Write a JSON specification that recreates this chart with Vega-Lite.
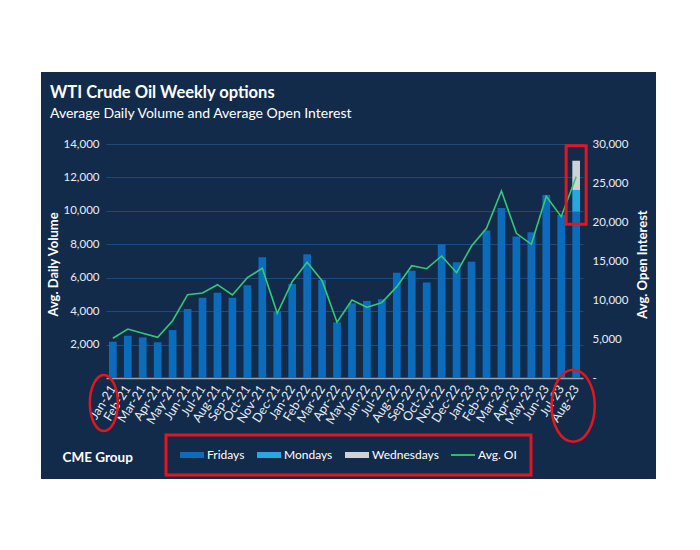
{
  "$schema": "https://vega.github.io/schema/vega-lite/v6.json",
  "width": 615,
  "height": 407,
  "autosize": {"type": "none"},
  "padding": {"left": 41, "top": 72, "right": 44, "bottom": 71},
  "background": "#ffffff",
  "view": {"fill": "#132b4b", "stroke": null},
  "config": {
    "font": "Lato",
    "view": {"fill": "#132b4b", "stroke": null},
    "style": {"cell": {"fill": "#132b4b", "stroke": null}},
    "legend": {"strokeWidth": 3}
  },
  "title": {
    "text": "WTI Crude Oil Weekly options",
    "subtitle": "Average Daily Volume and Average Open Interest",
    "anchor": "start",
    "frame": "group",
    "orient": "top",
    "offset": -49,
    "dx": 9,
    "color": "#ffffff",
    "fontSize": 16.5,
    "fontWeight": "bold",
    "subtitleColor": "#ffffff",
    "subtitleFontSize": 14,
    "subtitleFontWeight": "normal",
    "subtitlePadding": 6
  },
  "datasets": {
    "bars": [
      {"month": "Jan-21", "series": "Fridays", "value": 2170},
      {"month": "Feb-21", "series": "Fridays", "value": 2530},
      {"month": "Mar-21", "series": "Fridays", "value": 2430},
      {"month": "Apr-21", "series": "Fridays", "value": 2140},
      {"month": "May-21", "series": "Fridays", "value": 2870},
      {"month": "Jun-21", "series": "Fridays", "value": 4130},
      {"month": "Jul-21", "series": "Fridays", "value": 4800},
      {"month": "Aug-21", "series": "Fridays", "value": 5100},
      {"month": "Sep-21", "series": "Fridays", "value": 4800},
      {"month": "Oct-21", "series": "Fridays", "value": 5550},
      {"month": "Nov-21", "series": "Fridays", "value": 7220},
      {"month": "Dec-21", "series": "Fridays", "value": 3970},
      {"month": "Jan-22", "series": "Fridays", "value": 5620},
      {"month": "Feb-22", "series": "Fridays", "value": 7400},
      {"month": "Mar-22", "series": "Fridays", "value": 5860},
      {"month": "Apr-22", "series": "Fridays", "value": 3330},
      {"month": "May-22", "series": "Fridays", "value": 4470},
      {"month": "Jun-22", "series": "Fridays", "value": 4610},
      {"month": "Jul-22", "series": "Fridays", "value": 4710},
      {"month": "Aug-22", "series": "Fridays", "value": 6300},
      {"month": "Sep-22", "series": "Fridays", "value": 6420},
      {"month": "Oct-22", "series": "Fridays", "value": 5720},
      {"month": "Nov-22", "series": "Fridays", "value": 8000},
      {"month": "Dec-22", "series": "Fridays", "value": 6920},
      {"month": "Jan-23", "series": "Fridays", "value": 6960},
      {"month": "Feb-23", "series": "Fridays", "value": 8820},
      {"month": "Mar-23", "series": "Fridays", "value": 10170},
      {"month": "Apr-23", "series": "Fridays", "value": 8460},
      {"month": "May-23", "series": "Fridays", "value": 8720},
      {"month": "Jun-23", "series": "Fridays", "value": 10950},
      {"month": "Jul-23", "series": "Fridays", "value": 9750},
      {"month": "Aug-23", "series": "Fridays", "value": 9950},
      {"month": "Aug-23", "series": "Mondays", "value": 1300},
      {"month": "Aug-23", "series": "Wednesdays", "value": 1750}
    ],
    "oi": [
      {"month": "Jan-21", "oi": 5090},
      {"month": "Feb-21", "oi": 6280},
      {"month": "Mar-21", "oi": 5730},
      {"month": "Apr-21", "oi": 5220},
      {"month": "May-21", "oi": 7350},
      {"month": "Jun-21", "oi": 10680},
      {"month": "Jul-21", "oi": 10900},
      {"month": "Aug-21", "oi": 11960},
      {"month": "Sep-21", "oi": 10640},
      {"month": "Oct-21", "oi": 12860},
      {"month": "Nov-21", "oi": 14060},
      {"month": "Dec-21", "oi": 8290},
      {"month": "Jan-22", "oi": 12350},
      {"month": "Feb-22", "oi": 14830},
      {"month": "Mar-22", "oi": 12480},
      {"month": "Apr-22", "oi": 7140},
      {"month": "May-22", "oi": 10000},
      {"month": "Jun-22", "oi": 9060},
      {"month": "Jul-22", "oi": 9660},
      {"month": "Aug-22", "oi": 11710},
      {"month": "Sep-22", "oi": 14400},
      {"month": "Oct-22", "oi": 14010},
      {"month": "Nov-22", "oi": 15640},
      {"month": "Dec-22", "oi": 13500},
      {"month": "Jan-23", "oi": 16920},
      {"month": "Feb-23", "oi": 19190},
      {"month": "Mar-23", "oi": 23970},
      {"month": "Apr-23", "oi": 18550},
      {"month": "May-23", "oi": 17140},
      {"month": "Jun-23", "oi": 23290},
      {"month": "Jul-23", "oi": 20680},
      {"month": "Aug-23", "oi": 25810}
    ]
  },
  "layer": [
    {
      "data": {"name": "bars"},
      "mark": {"type": "bar"},
      "encoding": {
        "x": {
          "field": "month", "type": "nominal",
          "scale": {"domain": ["Jan-21","Feb-21","Mar-21","Apr-21","May-21","Jun-21","Jul-21","Aug-21","Sep-21","Oct-21","Nov-21","Dec-21","Jan-22","Feb-22","Mar-22","Apr-22","May-22","Jun-22","Jul-22","Aug-22","Sep-22","Oct-22","Nov-22","Dec-22","Jan-23","Feb-23","Mar-23","Apr-23","May-23","Jun-23","Jul-23","Aug-23"], "range": [65, 542], "paddingInner": 0.485, "paddingOuter": 0.2},
          "axis": {
            "orient": "bottom", "offset": -101,
            "labelAngle": -58, "labelAlign": "right", "labelBaseline": "middle",
            "labelPadding": 8, "labelFontSize": 12.5, "labelColor": "#e8edf3", "labelOverlap": false,
            "ticks": false, "domainColor": "#9aa3b0", "domainWidth": 1.5, "grid": false,
            "title": "CME Group", "titleX": 21, "titleY": 79, "titleAlign": "left", "titleBaseline": "middle",
            "titleFontSize": 13.5, "titleFontWeight": "bold", "titleColor": "#ffffff"
          }
        },
        "y": {
          "field": "value", "type": "quantitative", "stack": "zero",
          "scale": {"domain": [0, 14000], "range": [306, 72], "nice": false},
          "axis": {
            "orient": "left", "offset": -64,
            "values": [2000, 4000, 6000, 8000, 10000, 12000, 14000], "format": ",.0f",
            "labelColor": "#e8edf3", "labelFontSize": 11.5, "labelPadding": 6,
            "ticks": false, "domain": false,
            "grid": true, "gridColor": "#1e4b7d", "gridWidth": 1,
            "title": "Avg. Daily Volume", "titleColor": "#ffffff", "titleFontSize": 13, "titleFontWeight": "bold",
            "titleX": -52, "titleY": 192, "titleAngle": 270, "titleAlign": "center", "titleBaseline": "middle"
          }
        },
        "order": {"field": "series", "sort": "ascending"},
        "color": {
          "field": "series", "type": "nominal",
          "scale": {"domain": ["Fridays", "Mondays", "Wednesdays", "Avg. OI"], "range": ["#0a6cba", "#2aa7e2", "#cdd2d9", "#34c878"]},
          "legend": {
            "orient": "none", "direction": "horizontal", "legendX": 125, "legendY": 363,
            "title": null, "padding": 14, "strokeColor": "#e3161e",
            "symbolSize": 144, "labelOffset": 15, "columnPadding": 12,
            "symbolStrokeWidth": 0, "symbolOpacity": 1,
            "labelColor": "#ffffff", "labelFontSize": 12
          }
        }
      }
    },
    {
      "data": {"name": "oi"},
      "mark": {"type": "line", "color": "#34c878", "strokeWidth": 1.6},
      "encoding": {
        "x": {
          "field": "month", "type": "nominal",
          "scale": {"domain": ["Jan-21","Feb-21","Mar-21","Apr-21","May-21","Jun-21","Jul-21","Aug-21","Sep-21","Oct-21","Nov-21","Dec-21","Jan-22","Feb-22","Mar-22","Apr-22","May-22","Jun-22","Jul-22","Aug-22","Sep-22","Oct-22","Nov-22","Dec-22","Jan-23","Feb-23","Mar-23","Apr-23","May-23","Jun-23","Jul-23","Aug-23"], "range": [65, 542], "paddingInner": 0.485, "paddingOuter": 0.2}
        },
        "y": {
          "field": "oi", "type": "quantitative",
          "scale": {"domain": [0, 30000], "range": [306, 72], "nice": false},
          "axis": {
            "orient": "right", "offset": -68,
            "values": [0, 5000, 10000, 15000, 20000, 25000, 30000], "format": ",.0f",
            "labelExpr": "datum.value === 0 ? '-' : datum.label",
            "labelColor": "#e8edf3", "labelFontSize": 11.5, "labelPadding": 4,
            "ticks": false, "domain": false, "grid": false,
            "title": "Avg. Open Interest", "titleColor": "#ffffff", "titleFontSize": 13, "titleFontWeight": "bold",
            "titleX": 54.5, "titleY": 192, "titleAngle": 270, "titleAlign": "center", "titleBaseline": "middle"
          }
        }
      }
    },
    {
      "data": {"values": []},
      "mark": {"type": "point", "filled": true, "opacity": 1},
      "encoding": {
        "color": {
          "field": "series", "type": "nominal",
          "scale": {"domain": ["Fridays", "Mondays", "Wednesdays", "Avg. OI"], "range": ["#0a6cba", "#2aa7e2", "#cdd2d9", "#34c878"]},
          "legend": {
            "orient": "none", "direction": "horizontal", "legendX": 125, "legendY": 363,
            "title": null, "padding": 14, "strokeColor": "#e3161e",
            "symbolSize": 144, "labelOffset": 15, "columnPadding": 12,
            "symbolStrokeWidth": 0, "symbolOpacity": 1,
            "labelColor": "#ffffff", "labelFontSize": 12
          }
        },
        "shape": {
          "field": "series", "type": "nominal",
          "scale": {"domain": ["Fridays", "Mondays", "Wednesdays", "Avg. OI"], "range": ["M-1,-0.5H3V0.5H-1Z", "M-1,-0.5H3V0.5H-1Z", "M-1,-0.5H3V0.5H-1Z", "M-1,-0.15H3V0.15H-1Z"]},
          "legend": {
            "orient": "none", "direction": "horizontal", "legendX": 125, "legendY": 363,
            "title": null, "padding": 14, "strokeColor": "#e3161e",
            "symbolSize": 144, "labelOffset": 15, "columnPadding": 12,
            "symbolStrokeWidth": 0, "symbolOpacity": 1,
            "labelColor": "#ffffff", "labelFontSize": 12
          }
        }
      }
    },
    {
      "data": {"values": [{}]},
      "mark": {"type": "bar", "filled": false, "color": "#e3161e", "strokeWidth": 3, "width": 20},
      "encoding": {
        "x": {
          "datum": "Aug-23", "type": "nominal",
          "scale": {"domain": ["Jan-21","Feb-21","Mar-21","Apr-21","May-21","Jun-21","Jul-21","Aug-21","Sep-21","Oct-21","Nov-21","Dec-21","Jan-22","Feb-22","Mar-22","Apr-22","May-22","Jun-22","Jul-22","Aug-22","Sep-22","Oct-22","Nov-22","Dec-22","Jan-23","Feb-23","Mar-23","Apr-23","May-23","Jun-23","Jul-23","Aug-23"], "range": [65, 542], "paddingInner": 0.485, "paddingOuter": 0.2}
        },
        "y": {"datum": 9200, "type": "quantitative", "scale": {"domain": [0, 14000], "range": [306, 72], "nice": false}, "axis": null},
        "y2": {"datum": 13900}
      }
    },
    {
      "data": {"values": [{}]},
      "mark": {"type": "point", "shape": "M0,-1A0.5,1 0 1 1 0,1A0.5,1 0 1 1 0,-1Z", "size": 3136, "filled": false, "color": "#e3161e", "strokeWidth": 2.5, "opacity": 1, "xOffset": -9},
      "encoding": {
        "x": {
          "datum": "Jan-21", "type": "nominal",
          "scale": {"domain": ["Jan-21","Feb-21","Mar-21","Apr-21","May-21","Jun-21","Jul-21","Aug-21","Sep-21","Oct-21","Nov-21","Dec-21","Jan-22","Feb-22","Mar-22","Apr-22","May-22","Jun-22","Jul-22","Aug-22","Sep-22","Oct-22","Nov-22","Dec-22","Jan-23","Feb-23","Mar-23","Apr-23","May-23","Jun-23","Jul-23","Aug-23"], "range": [65, 542], "paddingInner": 0.485, "paddingOuter": 0.2}
        },
        "y": {"datum": -1500, "type": "quantitative", "scale": {"domain": [0, 14000], "range": [306, 72], "nice": false}, "axis": null}
      }
    },
    {
      "data": {"values": [{}]},
      "mark": {"type": "point", "shape": "M0,-1A0.6,1 0 1 1 0,1A0.6,1 0 1 1 0,-1Z", "size": 5184, "filled": false, "color": "#e3161e", "strokeWidth": 2.5, "opacity": 1, "xOffset": -3},
      "encoding": {
        "x": {
          "datum": "Aug-23", "type": "nominal",
          "scale": {"domain": ["Jan-21","Feb-21","Mar-21","Apr-21","May-21","Jun-21","Jul-21","Aug-21","Sep-21","Oct-21","Nov-21","Dec-21","Jan-22","Feb-22","Mar-22","Apr-22","May-22","Jun-22","Jul-22","Aug-22","Sep-22","Oct-22","Nov-22","Dec-22","Jan-23","Feb-23","Mar-23","Apr-23","May-23","Jun-23","Jul-23","Aug-23"], "range": [65, 542], "paddingInner": 0.485, "paddingOuter": 0.2}
        },
        "y": {"datum": -1663, "type": "quantitative", "scale": {"domain": [0, 14000], "range": [306, 72], "nice": false}, "axis": null}
      }
    }
  ],
  "resolve": {"scale": {"y": "independent"}, "axis": {"y": "independent"}}
}
